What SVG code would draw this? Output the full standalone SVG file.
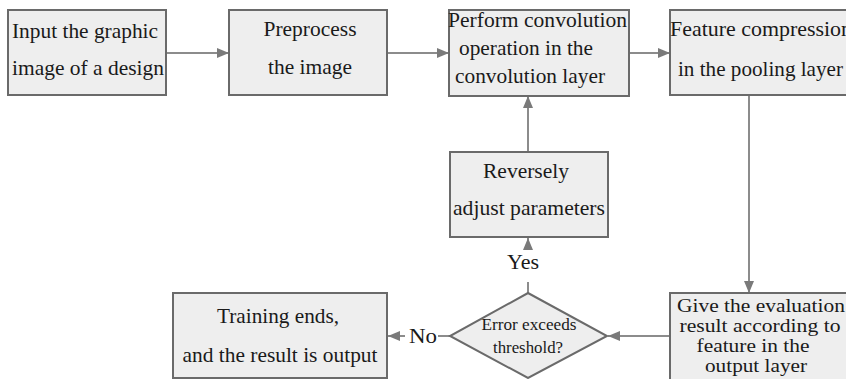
<svg xmlns="http://www.w3.org/2000/svg" width="846" height="379" viewBox="0 0 846 379">
<defs>
<marker id="ah" markerWidth="12" markerHeight="10" refX="12" refY="5" orient="auto" markerUnits="userSpaceOnUse">
<path d="M0,0 L12,5 L0,10 Z" fill="#7a7a7a"/>
</marker>
<style>
.box{fill:#eeeeee;stroke:#6a6a6a;stroke-width:2}
.t{font-family:"Liberation Serif","Times New Roman",serif;font-size:22px;fill:#1a1a1a}
.e{font-family:"Liberation Serif","Times New Roman",serif;font-size:19px;fill:#1a1a1a}
.s{font-family:"Liberation Serif","Times New Roman",serif;font-size:16.5px;fill:#1a1a1a}
.c{text-anchor:middle}
.ln{fill:none;stroke:#8c8c8c;stroke-width:2}
</style>
</defs>
<rect width="846" height="379" fill="#ffffff"/>
<g id="connectors">
<line class="ln" x1="166" y1="53" x2="229" y2="53" marker-end="url(#ah)"/>
<line class="ln" x1="388" y1="53" x2="449" y2="53" marker-end="url(#ah)"/>
<line class="ln" x1="630" y1="53" x2="670" y2="53" marker-end="url(#ah)"/>
<line class="ln" x1="749" y1="96" x2="749" y2="293" marker-end="url(#ah)"/>
<line class="ln" x1="670" y1="336" x2="608" y2="336" marker-end="url(#ah)"/>
<line class="ln" x1="528" y1="152" x2="528" y2="96" marker-end="url(#ah)"/>
<line class="ln" x1="528" y1="293" x2="528" y2="282"/>
<line class="ln" x1="528" y1="248" x2="528" y2="238" marker-end="url(#ah)"/>
<line class="ln" x1="450" y1="336" x2="438" y2="336"/>
<line class="ln" x1="405" y1="336" x2="388" y2="336" marker-end="url(#ah)"/>
<text class="t c" x="523" y="269" textLength="32" lengthAdjust="spacingAndGlyphs">Yes</text>
<text class="t c" x="423" y="343" textLength="28" lengthAdjust="spacingAndGlyphs">No</text>
</g>
<g id="input">
<rect class="box" x="8" y="10" width="158" height="85"/>
<text class="t" x="12" y="38" textLength="146" lengthAdjust="spacingAndGlyphs">Input the graphic</text>
<text class="t" x="12" y="75" textLength="152" lengthAdjust="spacingAndGlyphs">image of a design</text>
</g>
<g id="preprocess">
<rect class="box" x="229" y="10" width="158" height="85"/>
<text class="t c" x="310" y="36" textLength="93" lengthAdjust="spacingAndGlyphs">Preprocess</text>
<text class="t c" x="310" y="74" textLength="84" lengthAdjust="spacingAndGlyphs">the image</text>
</g>
<g id="convolution">
<rect class="box" x="449" y="10" width="180" height="86"/>
<text class="t" x="448" y="27" textLength="179" lengthAdjust="spacingAndGlyphs">Perform convolution</text>
<text class="t" x="459" y="55" textLength="134" lengthAdjust="spacingAndGlyphs">operation in the</text>
<text class="t" x="455" y="83" textLength="150" lengthAdjust="spacingAndGlyphs">convolution layer</text>
</g>
<g id="pooling">
<rect class="box" x="670" y="10" width="180" height="85"/>
<text class="t" x="670" y="36" textLength="182" lengthAdjust="spacingAndGlyphs">Feature compression</text>
<text class="t" x="678" y="76" textLength="165" lengthAdjust="spacingAndGlyphs">in the pooling layer</text>
</g>
<g id="reverse">
<rect class="box" x="450" y="152" width="158" height="85"/>
<text class="t c" x="526" y="178" textLength="86" lengthAdjust="spacingAndGlyphs">Reversely</text>
<text class="t c" x="529" y="215" textLength="152" lengthAdjust="spacingAndGlyphs">adjust parameters</text>
</g>
<g id="evaluate">
<rect class="box" x="670" y="293" width="180" height="90"/>
<text class="e c" x="761" y="312" textLength="168" lengthAdjust="spacingAndGlyphs">Give the evaluation</text>
<text class="e c" x="760" y="332" textLength="161" lengthAdjust="spacingAndGlyphs">result according to</text>
<text class="e c" x="753" y="352" textLength="113" lengthAdjust="spacingAndGlyphs">feature in the</text>
<text class="e c" x="756" y="372" textLength="102" lengthAdjust="spacingAndGlyphs">output layer</text>
</g>
<g id="decision">
<polygon points="528,293 607,336 528,378 450,336" fill="#eeeeee" stroke="#6a6a6a" stroke-width="2"/>
<text class="s c" x="529" y="330" textLength="95" lengthAdjust="spacingAndGlyphs">Error exceeds</text>
<text class="s c" x="528" y="353" textLength="70" lengthAdjust="spacingAndGlyphs">threshold?</text>
</g>
<g id="end">
<rect class="box" x="173" y="293" width="214" height="85"/>
<text class="t c" x="278" y="323" textLength="122" lengthAdjust="spacingAndGlyphs">Training ends,</text>
<text class="t c" x="280" y="362" textLength="195" lengthAdjust="spacingAndGlyphs">and the result is output</text>
</g>
</svg>
